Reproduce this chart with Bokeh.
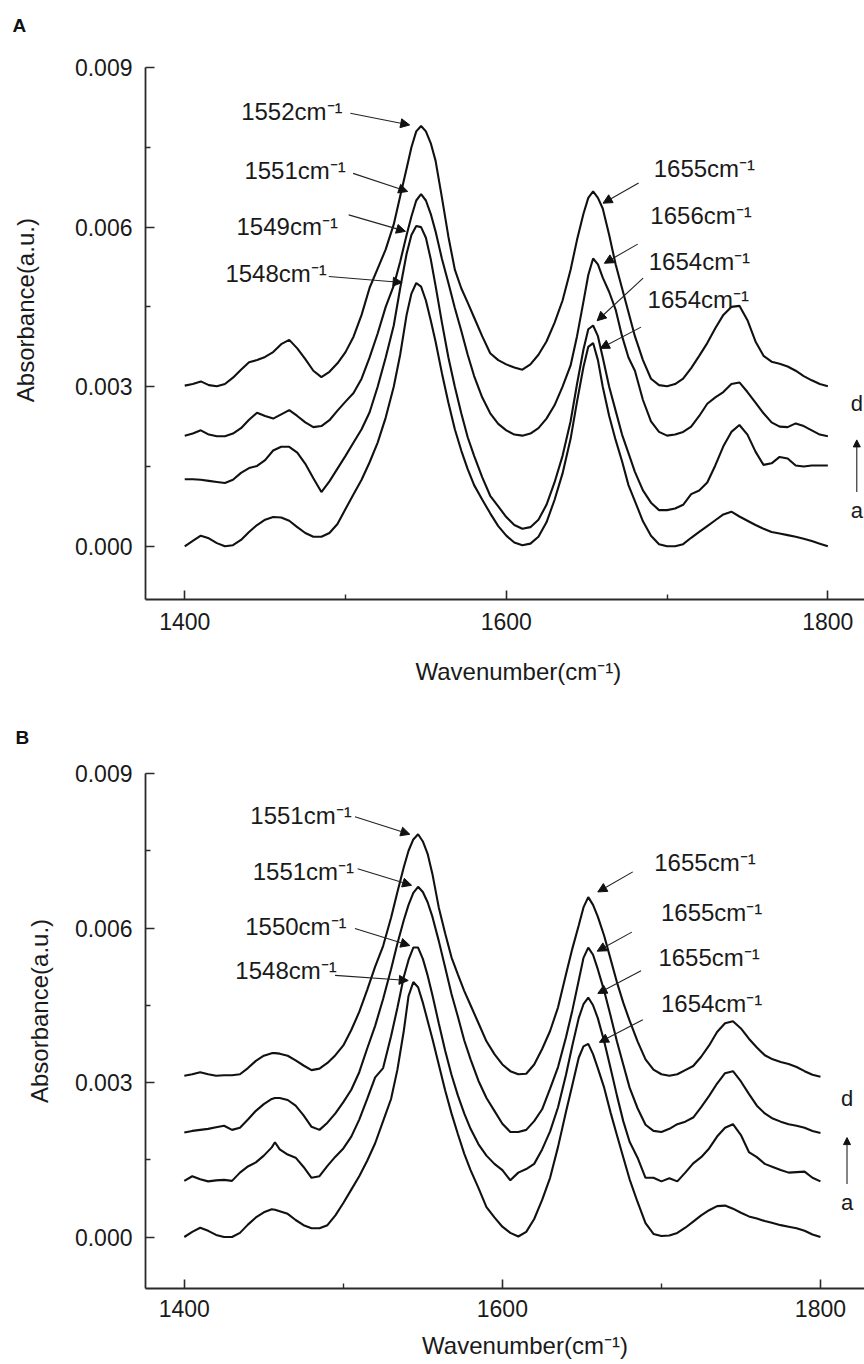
import numpy as np
from bokeh.plotting import figure
from bokeh.models import (Range1d, FixedTicker, PrintfTickFormatter, Arrow,
                          NormalHead, ColumnDataSource)
from bokeh.layouts import column
from bokeh.embed import file_html
from bokeh.resources import INLINE
from bokeh.core.properties import value

FONT = "Liberation Sans"

# ---------------- data (absorbance in units of 0.001) ----------------
wn_A = [1400, 1405, 1410, 1415, 1420, 1425, 1430, 1435, 1440, 1445, 1450, 1455,
        1460, 1465, 1470, 1475, 1480, 1485, 1490, 1495, 1500, 1505, 1510, 1515,
        1520, 1525, 1530, 1534, 1538, 1541, 1544, 1547, 1550, 1553, 1556, 1560,
        1564, 1568, 1572, 1576, 1580, 1585, 1590, 1595, 1600, 1605, 1610, 1615,
        1620, 1625, 1630, 1635, 1640, 1644, 1648, 1651, 1654, 1657, 1660, 1664,
        1668, 1672, 1676, 1680, 1685, 1690, 1695, 1700, 1705, 1710, 1715, 1720,
        1725, 1730, 1735, 1740, 1745, 1750, 1755, 1760, 1765, 1770, 1775, 1780,
        1785, 1790, 1795, 1800]

A_d = [3.02, 3.05, 3.10, 3.03, 3.01, 3.05, 3.17, 3.32, 3.46, 3.50, 3.56, 3.65,
       3.80, 3.88, 3.72, 3.52, 3.30, 3.18, 3.28, 3.44, 3.65, 3.94, 4.35, 4.86,
       5.22, 5.58, 6.05,
       6.58, 7.10, 7.50, 7.80, 7.90, 7.80, 7.58, 7.25,
       6.55, 5.82, 5.20, 4.85, 4.58, 4.30,
       3.95, 3.63, 3.50, 3.42, 3.36, 3.32, 3.42, 3.60, 3.85, 4.20, 4.62, 5.20,
       5.76, 6.25, 6.55, 6.67, 6.55, 6.35, 5.85, 5.30, 4.85, 4.40, 3.95,
       3.50, 3.15, 3.03, 3.01, 3.05, 3.15, 3.35, 3.58, 3.82, 4.10, 4.35, 4.50,
       4.52, 4.25, 3.85, 3.58, 3.47, 3.43, 3.38, 3.30, 3.20, 3.12, 3.05, 3.01]
A_c = [2.08, 2.12, 2.18, 2.10, 2.07, 2.07, 2.12, 2.22, 2.38, 2.51, 2.45, 2.40,
       2.48, 2.56, 2.45, 2.33, 2.24, 2.26, 2.37, 2.55, 2.72, 2.88, 3.15, 3.55,
       4.00, 4.50, 4.90,
       5.35, 5.85, 6.20, 6.50, 6.62, 6.50, 6.25, 5.92,
       5.40, 4.95, 4.48, 4.05, 3.60, 3.20,
       2.80, 2.50, 2.30, 2.18, 2.10, 2.08, 2.12, 2.22, 2.40, 2.65, 3.00, 3.40,
       3.95, 4.60, 5.10, 5.41, 5.30, 5.05, 4.78, 4.45, 3.95, 3.55, 3.30,
       2.75, 2.35, 2.15, 2.08, 2.10, 2.15, 2.25, 2.45, 2.68, 2.80, 2.90, 3.05,
       3.08, 2.90, 2.70, 2.50, 2.33, 2.25, 2.24, 2.31, 2.26, 2.18, 2.10, 2.07]
A_b = [1.26, 1.26, 1.25, 1.23, 1.21, 1.19, 1.25, 1.38, 1.47, 1.51, 1.62, 1.80,
       1.87, 1.87, 1.76, 1.55, 1.28, 1.02, 1.22, 1.46, 1.70, 1.95, 2.20, 2.52,
       3.00, 3.55, 4.15,
       4.85, 5.50, 5.85, 6.02, 6.00, 5.80, 5.40, 4.90,
       4.20, 3.55, 3.00, 2.50, 2.05, 1.70,
       1.30, 0.95, 0.75, 0.55, 0.40, 0.33, 0.36, 0.50, 0.78, 1.20, 1.70, 2.35,
       3.05, 3.70, 4.08, 4.15, 3.95, 3.55, 3.00, 2.55, 2.10, 1.75, 1.40,
       1.05, 0.82, 0.68, 0.68, 0.71, 0.78, 0.98, 1.05, 1.20, 1.52, 1.88, 2.15,
       2.28, 2.10, 1.78, 1.53, 1.56, 1.68, 1.65, 1.52, 1.50, 1.52, 1.52, 1.52]
A_a = [0.00, 0.10, 0.20, 0.15, 0.06, 0.00, 0.02, 0.12, 0.27, 0.40, 0.50, 0.55,
       0.54, 0.48, 0.36, 0.25, 0.18, 0.18, 0.25, 0.42, 0.70, 0.98, 1.25, 1.58,
       1.95, 2.42, 3.00,
       3.60, 4.35, 4.75, 4.95, 4.88, 4.62, 4.25, 3.85,
       3.25, 2.70, 2.20, 1.80, 1.45, 1.15,
       0.88, 0.62, 0.38, 0.20, 0.07, 0.02, 0.05, 0.18, 0.45, 0.87, 1.37, 2.02,
       2.72, 3.37, 3.75, 3.82, 3.50, 3.00, 2.45, 2.00, 1.60, 1.15, 0.85,
       0.47, 0.20, 0.04, 0.00, 0.00, 0.04, 0.16, 0.27, 0.38, 0.49, 0.60, 0.65,
       0.56, 0.48, 0.40, 0.33, 0.27, 0.24, 0.21, 0.18, 0.14, 0.10, 0.05, 0.00]

wn_B = [1400, 1405, 1410, 1415, 1420, 1425, 1430, 1435, 1440, 1445, 1450, 1455,
        1457,
        1460, 1465, 1470, 1475, 1480, 1485, 1490, 1495, 1500, 1505, 1510, 1515,
        1520, 1525, 1530, 1534, 1538, 1541, 1544, 1547, 1550, 1553, 1556, 1560,
        1564, 1568, 1572, 1576, 1580, 1585, 1590, 1595, 1600, 1605, 1610, 1615,
        1620, 1625, 1630, 1635, 1640, 1644, 1648, 1651, 1654, 1657, 1660, 1664,
        1668, 1672, 1676, 1680, 1685, 1690, 1695, 1700, 1705, 1710, 1715, 1720,
        1725, 1730, 1735, 1740, 1745, 1750, 1755, 1760, 1765, 1770, 1775, 1780,
        1785, 1790, 1795, 1800]

B_d = [3.13, 3.16, 3.20, 3.16, 3.13, 3.14, 3.14, 3.16, 3.28, 3.42, 3.52, 3.57,
       3.57,
       3.56, 3.52, 3.43, 3.33, 3.24, 3.27, 3.38, 3.53, 3.72, 4.02, 4.37, 4.80,
       5.25, 5.65, 6.20,
       6.70, 7.18, 7.50, 7.72, 7.82, 7.68, 7.44, 7.05,
       6.40, 5.90, 5.43, 5.10, 4.78, 4.50,
       4.15, 3.80, 3.55, 3.35, 3.22, 3.16, 3.17, 3.35, 3.65, 4.00, 4.46, 5.10,
       5.60, 6.05, 6.40, 6.60, 6.45, 6.22, 5.85, 5.40, 4.95, 4.55, 4.20,
       3.80, 3.45, 3.25, 3.16, 3.13, 3.16, 3.24, 3.32, 3.50, 3.72, 3.98, 4.15,
       4.19, 4.05, 3.85, 3.68, 3.53, 3.45, 3.40, 3.36, 3.30, 3.22, 3.15, 3.11]
B_c = [2.03, 2.06, 2.08, 2.10, 2.13, 2.16, 2.08, 2.12, 2.28, 2.45, 2.58, 2.68,
       2.70,
       2.70, 2.66, 2.55, 2.36, 2.14, 2.08, 2.22, 2.40, 2.62, 2.86, 3.20, 3.66,
       4.10, 4.62, 5.20,
       5.70, 6.15, 6.45, 6.68, 6.80, 6.70, 6.50, 6.22,
       5.75, 5.24, 4.72, 4.28, 3.82, 3.45,
       3.03, 2.70, 2.45, 2.20, 2.04, 2.04, 2.08, 2.25, 2.48, 2.88, 3.30, 3.88,
       4.40, 4.98, 5.42, 5.62, 5.48, 5.20, 4.78, 4.30, 3.80, 3.35, 2.90,
       2.50, 2.18, 2.06, 2.04, 2.10, 2.19, 2.24, 2.32, 2.52, 2.74, 2.98, 3.18,
       3.22, 3.02, 2.78, 2.55, 2.40, 2.30, 2.24, 2.19, 2.16, 2.12, 2.06, 2.02]
B_b = [1.09, 1.18, 1.12, 1.08, 1.10, 1.11, 1.09, 1.25, 1.37, 1.45, 1.58, 1.74,
       1.84,
       1.70, 1.60, 1.54, 1.36, 1.15, 1.18, 1.38, 1.56, 1.72, 1.95, 2.28, 2.68,
       3.10, 3.28, 3.90,
       4.45, 5.05, 5.38, 5.62, 5.62, 5.40, 5.08, 4.70,
       4.15, 3.62, 3.15, 2.75, 2.40, 2.10,
       1.80, 1.58, 1.42, 1.30, 1.10, 1.25, 1.32, 1.42, 1.70, 2.05, 2.52, 3.15,
       3.72, 4.25, 4.52, 4.65, 4.50, 4.25, 3.80, 3.28, 2.75, 2.25, 1.85,
       1.54, 1.15, 1.15, 1.08, 1.14, 1.08, 1.25, 1.43, 1.55, 1.72, 1.95, 2.12,
       2.19, 1.98, 1.65, 1.55, 1.42, 1.36, 1.30, 1.25, 1.26, 1.27, 1.15, 1.08]
B_a = [0.00, 0.10, 0.18, 0.12, 0.04, 0.00, 0.00, 0.08, 0.24, 0.38, 0.48, 0.54,
       0.53,
       0.50, 0.45, 0.33, 0.23, 0.17, 0.17, 0.23, 0.42, 0.66, 0.92, 1.18, 1.48,
       1.82, 2.25, 2.68,
       3.25, 4.00, 4.68, 4.95, 4.85, 4.55, 4.20, 3.85,
       3.35, 2.85, 2.40, 2.00, 1.62, 1.30,
       0.95, 0.58, 0.38, 0.20, 0.08, 0.01, 0.10, 0.35, 0.72, 1.15, 1.75, 2.43,
       2.95, 3.48, 3.70, 3.75, 3.55, 3.28, 2.90, 2.42, 1.98, 1.55, 1.12,
       0.68, 0.27, 0.06, 0.02, 0.03, 0.08, 0.18, 0.30, 0.42, 0.52, 0.60, 0.61,
       0.55, 0.47, 0.40, 0.36, 0.31, 0.27, 0.23, 0.20, 0.17, 0.12, 0.05, 0.00]

# peak annotations (text, label anchor, arrow tail -> arrow head), units of 0.001
labels_A = ["1552cm⁻¹", "1551cm⁻¹", "1549cm⁻¹", "1548cm⁻¹",
            "1655cm⁻¹", "1656cm⁻¹", "1654cm⁻¹", "1654cm⁻¹"]
lab_A_x = [1435.1, 1437.1, 1432.2, 1425.3, 1691.7, 1689.6, 1688.6, 1687.9]
lab_A_y = [8.17, 7.06, 6.01, 5.13, 7.11, 6.21, 5.35, 4.63]
arr_A_x0 = [1503.0, 1504.7, 1502.0, 1489.6, 1682.3, 1681.7, 1685.1, 1683.8]
arr_A_y0 = [8.14, 7.01, 6.23, 5.07, 6.83, 5.68, 5.04, 4.12]
arr_A_x1 = [1539.9, 1538.7, 1537.3, 1535.2, 1660.2, 1661.0, 1656.5, 1658.5]
arr_A_y1 = [7.92, 6.67, 5.92, 4.96, 6.45, 5.32, 4.24, 3.72]

labels_B = ["1551cm⁻¹", "1551cm⁻¹", "1550cm⁻¹", "1548cm⁻¹",
            "1655cm⁻¹", "1655cm⁻¹", "1655cm⁻¹", "1654cm⁻¹"]
lab_B_x = [1441.5, 1443.0, 1438.3, 1432.1, 1695.5, 1699.7, 1698.1, 1699.7]
lab_B_y = [8.19, 7.09, 6.02, 5.17, 7.28, 6.31, 5.43, 4.53]
arr_B_x0 = [1507.3, 1509.0, 1507.3, 1494.8, 1682.0, 1681.4, 1687.2, 1688.3]
arr_B_y0 = [8.16, 7.15, 5.99, 5.08, 7.09, 5.92, 5.17, 4.22]
arr_B_x1 = [1541.8, 1542.9, 1541.8, 1540.8, 1660.0, 1659.6, 1660.0, 1661.0]
arr_B_y1 = [7.82, 6.83, 5.66, 4.98, 6.70, 5.55, 4.73, 3.78]

x_major = [1400, 1600, 1800]
x_minor = [1500, 1700]
y_major = [0.000, 0.003, 0.006, 0.009]
y_minor = [0.0015, 0.0045, 0.0075]

S = 1e-3
NB = "\u00a0"


def panel(letter, wn, curves, labels, lx, ly, ax0, ay0, ax1, ay1,
          xr, height, left, top, bottom, letter_offset, letter_standoff,
          ylab_shift, ylab_standoff, xlab_shift, xlab_standoff, xtick_standoff,
          side_x, side_d, side_a, side_arrow):
    p = figure(width=864, height=height, x_range=Range1d(*xr),
               y_range=Range1d(-0.001, 0.009), output_backend="svg",
               toolbar_location=None, min_border_left=left,
               min_border_right=0, min_border_top=top, min_border_bottom=bottom)
    p.xgrid.visible = False
    p.ygrid.visible = False
    p.outline_line_color = None
    p.background_fill_color = "white"

    # panel letter (second, blank line lifts the letter toward the top edge)
    p.title.text = letter + "\n" + NB
    p.title.align = "left"
    p.title.offset = letter_offset
    p.title.standoff = letter_standoff
    p.title.text_font = FONT
    p.title.text_font_size = "19px"
    p.title.text_font_style = "bold"
    p.title.text_color = "#111111"

    for ax in (p.xaxis[0], p.yaxis[0]):
        ax.axis_line_width = 1.8
        ax.axis_line_color = "#2a2a2a"
        ax.major_tick_line_color = "#2a2a2a"
        ax.minor_tick_line_color = "#2a2a2a"
        ax.major_tick_line_width = 1.6
        ax.minor_tick_line_width = 1.4
        ax.major_tick_in = 9
        ax.major_tick_out = 0
        ax.minor_tick_in = 5
        ax.minor_tick_out = 0
        ax.major_label_text_font = FONT
        ax.major_label_text_font_size = "23px"
        ax.major_label_text_color = "#1a1a1a"
        ax.axis_label_text_font = FONT
        ax.axis_label_text_font_size = "24px"
        ax.axis_label_text_font_style = "normal"
        ax.axis_label_text_color = "#1a1a1a"
    p.xaxis.ticker = FixedTicker(ticks=x_major, minor_ticks=x_minor)
    p.yaxis.ticker = FixedTicker(ticks=y_major, minor_ticks=y_minor)
    p.yaxis.formatter = PrintfTickFormatter(format="%.3f")
    p.xaxis.major_label_standoff = xtick_standoff
    p.yaxis.major_label_standoff = 13
    p.yaxis.axis_label = NB * ylab_shift + "Absorbance(a.u.)"
    p.yaxis.axis_label_standoff = ylab_standoff
    p.xaxis.axis_label = NB * xlab_shift + "Wavenumber(cm⁻¹)"
    p.xaxis.axis_label_standoff = xlab_standoff

    for ys in curves:
        p.line(wn, np.array(ys) * S, line_color="#111111", line_width=2.1)

    src = ColumnDataSource(dict(x=lx, y=np.array(ly) * S, t=labels))
    p.text(x="x", y="y", text="t", source=src, text_font=value(FONT),
           text_font_size="24px", text_align="left", text_baseline="middle",
           text_color="#1a1a1a")
    asrc = ColumnDataSource(dict(x0=ax0, y0=np.array(ay0) * S,
                                 x1=ax1, y1=np.array(ay1) * S))
    p.add_layout(Arrow(end=NormalHead(size=9, fill_color="#111111",
                                      line_color="#111111", line_width=1),
                       x_start="x0", y_start="y0", x_end="x1", y_end="y1",
                       source=asrc, line_width=1.1, line_color="#222222"))

    # series order arrow a -> d
    p.add_layout(Arrow(end=NormalHead(size=7, fill_color="#111111",
                                      line_color="#111111", line_width=1),
                       x_start=side_x, y_start=side_arrow[0] * S,
                       x_end=side_x, y_end=side_arrow[1] * S,
                       line_width=1.1, line_color="#222222"))
    p.text(x=[side_x, side_x], y=[side_d * S, side_a * S], text=["d", "a"],
           text_font=value(FONT), text_font_size="22px", text_align="center",
           text_baseline="middle", text_color="#1a1a1a")
    return p


pA = panel("A", wn_A, [A_a, A_b, A_c, A_d], labels_A, lab_A_x, lab_A_y,
           arr_A_x0, arr_A_y0, arr_A_x1, arr_A_y1,
           xr=(1375.6, 1822.8), height=700, left=145, top=67, bottom=101,
           letter_offset=-133, letter_standoff=22,
           ylab_shift=7, ylab_standoff=33, xlab_shift=4, xlab_standoff=25,
           xtick_standoff=13,
           side_x=1818.0, side_d=2.69, side_a=0.68, side_arrow=(1.02, 2.00))

pB = panel("B", wn_B, [B_a, B_b, B_c, B_d], labels_B, lab_B_x, lab_B_y,
           arr_B_x0, arr_B_y0, arr_B_x1, arr_B_y1,
           xr=(1375.6, 1827.7), height=664, left=143, top=73, bottom=76,
           letter_offset=-130, letter_standoff=10,
           ylab_shift=6, ylab_standoff=19, xlab_shift=6, xlab_standoff=12,
           xtick_standoff=11,
           side_x=1816.7, side_d=2.68, side_a=0.67, side_arrow=(1.03, 1.93))

layout = column(pA, pB)
open("out.html", "w").write(file_html(layout, INLINE))
